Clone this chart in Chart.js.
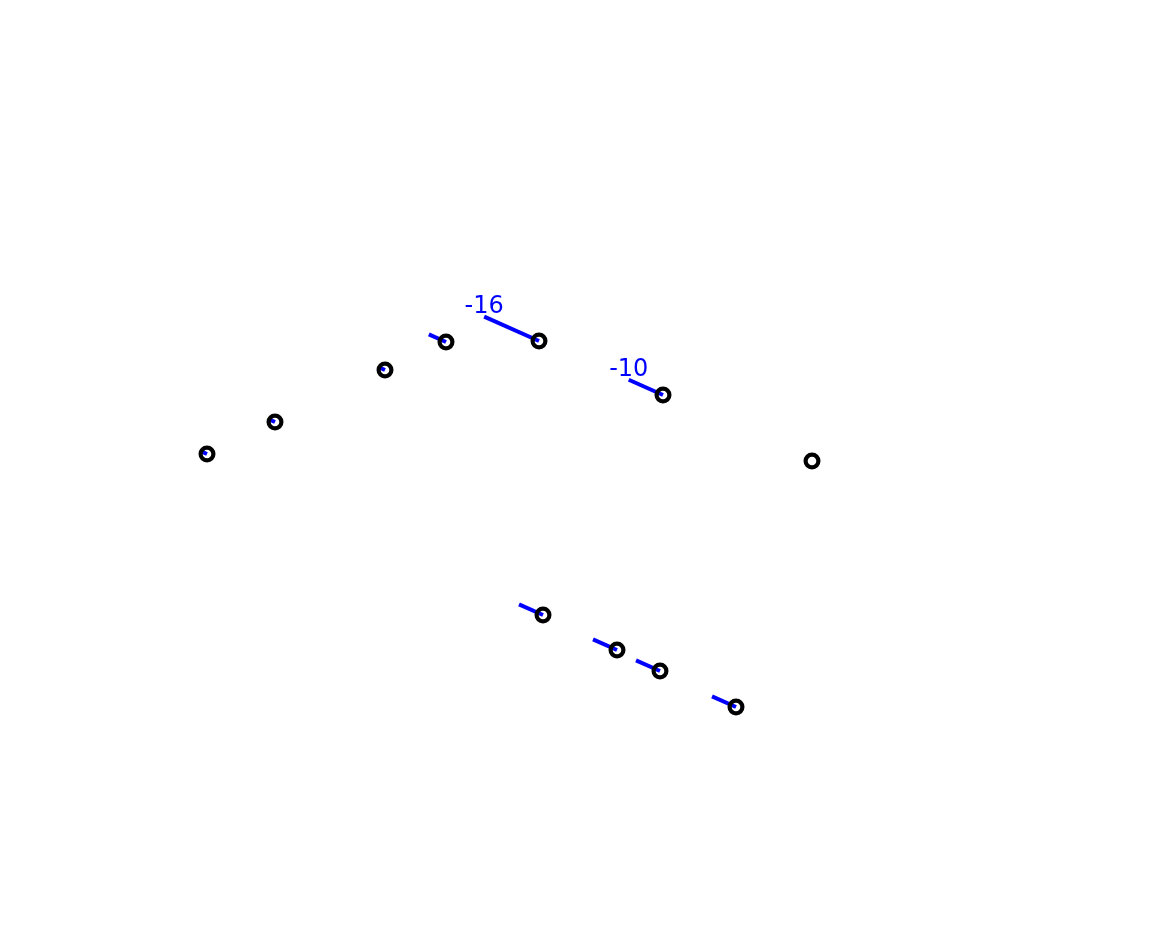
<!DOCTYPE html>
<html>
<head>
<meta charset="utf-8">
<script src="https://cdn.jsdelivr.net/npm/chart.js@4/dist/chart.umd.min.js"></script>
<style>
  html, body { margin: 0; padding: 0; background: #ffffff; }
  #wrap { width: 1150px; height: 940px; position: relative; }
</style>
</head>
<body>
<div id="wrap"><canvas id="c" width="1150" height="940"></canvas></div>
<script>
// ---- data ----
const pointNames = ['A', 'B', 'C', 'D', 'E', 'F', 'K', 'G', 'H', 'I', 'J'];
const xValues    = [2.07, 2.75, 3.85, 4.46, 5.39, 6.63, 8.12, 5.43, 6.17, 6.60, 7.36];
const yValues    = [4.86, 5.18, 5.70, 5.98, 5.99, 5.45, 4.79, 3.25, 2.90, 2.69, 2.33];
const changes    = [-2, -2, -2, -5, -16, -10, 0, -7, -7, -7, -7];
const labelThreshold = 10;

// ---- segment geometry (data units per unit of change) ----
const segLen = 0.0375;
const segAngle = 24 * Math.PI / 180;

const segEnds = changes.map((v, i) => ({
  x: xValues[i] + v * segLen * Math.cos(segAngle),
  y: yValues[i] - v * segLen * Math.sin(segAngle)
}));

const datasets = [];
datasets.push({
  type: 'scatter',
  label: 'points',
  data: xValues.map((x, i) => ({ x: x, y: yValues[i] })),
  pointRadius: 6.4,
  pointHoverRadius: 6.4,
  pointBorderWidth: 4.2,
  pointBorderColor: '#000000',
  pointBackgroundColor: 'rgba(0,0,0,0)',
  showLine: false,
  order: 0
});
changes.forEach((v, i) => {
  if (v === 0) return;
  datasets.push({
    type: 'line',
    label: 'seg-' + pointNames[i],
    data: [{ x: xValues[i], y: yValues[i] }, segEnds[i]],
    borderColor: '#0000ff',
    borderWidth: 4,
    borderCapStyle: 'butt',
    pointRadius: 0,
    fill: false,
    order: 1
  });
});

const labelPlugin = {
  id: 'segLabels',
  afterDatasetsDraw(chart) {
    const ctx = chart.ctx;
    const xs = chart.scales.x, ys = chart.scales.y;
    ctx.save();
    ctx.font = '24px "DejaVu Sans"';
    ctx.fillStyle = '#0000ff';
    ctx.textAlign = 'center';
    ctx.textBaseline = 'alphabetic';
    changes.forEach((v, i) => {
      if (Math.abs(v) < labelThreshold) return;
      const px = xs.getPixelForValue(segEnds[i].x);
      const py = ys.getPixelForValue(segEnds[i].y);
      ctx.fillText(String(v), px, py - 4);
    });
    ctx.restore();
  }
};

new Chart(document.getElementById('c'), {
  type: 'scatter',
  data: { datasets: datasets },
  options: {
    responsive: false,
    animation: false,
    layout: { padding: 0, autoPadding: false },
    plugins: { legend: { display: false }, tooltip: { enabled: false } },
    scales: {
      x: { type: 'linear', min: 0, max: 11.5, display: false },
      y: { type: 'linear', min: 0, max: 9.4, display: false }
    }
  },
  plugins: [labelPlugin]
});
</script>
</body>
</html>
